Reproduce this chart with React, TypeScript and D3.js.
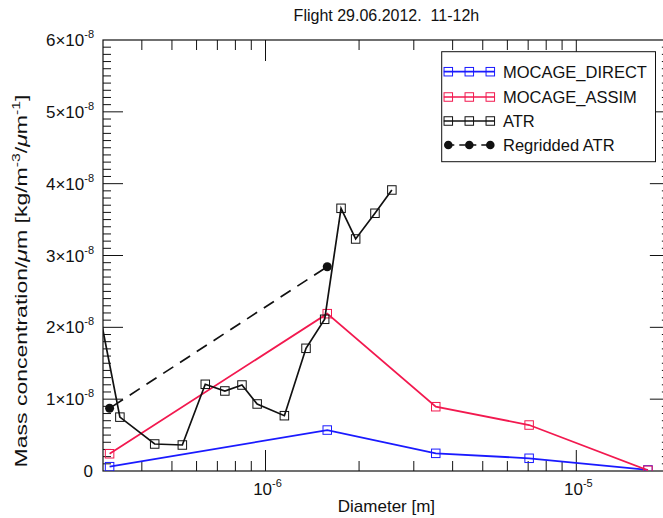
import React from "react";
import * as d3 from "d3";

// Size-resolved aerosol mass concentration, flight of 29.06.2012, 11-12h
const modelDiameter = [3.15e-7, 1.58e-6, 3.53e-6, 7.05e-6, 1.7e-5];
const mocageDirect = [0.06e-8, 0.57e-8, 0.246e-8, 0.177e-8, 0.015e-8];
const mocageAssim = [0.24e-8, 2.19e-8, 0.895e-8, 0.64e-8, 0.01e-8];

const atrDiameter = [
  0.28e-6, 0.34e-6, 0.44e-6, 0.54e-6, 0.64e-6, 0.74e-6, 0.84e-6, 0.94e-6,
  1.15e-6, 1.35e-6, 1.55e-6, 1.75e-6, 1.95e-6, 2.25e-6, 2.55e-6,
];
const atrMass = [
  2.62e-8, 0.75e-8, 0.376e-8, 0.362e-8, 1.207e-8, 1.114e-8, 1.197e-8, 0.933e-8,
  0.77e-8, 1.708e-8, 2.112e-8, 3.657e-8, 3.23e-8, 3.588e-8, 3.912e-8,
];

const regriddedDiameter = [3.15e-7, 1.58e-6];
const regriddedMass = [0.873e-8, 2.844e-8];

const seriesNames = ["MOCAGE_DIRECT", "MOCAGE_ASSIM", "ATR", "Regridded ATR"];
const yTickMantissas = [1, 2, 3, 4, 5, 6];
const yTickExponent = "-8";
const xLabelTicks = [1e-6, 1e-5];
const xLabelExponents = ["-6", "-5"];

const W = 663;
const H = 518;
const FONT = "'Liberation Sans', Arial, Helvetica, sans-serif";
const BLUE = "#1a1aff";
const RED = "#f2194f";
const BLACK = "#111";

const left = 103;
const top = 40;
const bottom = 471;
const x = d3
  .scaleLog()
  .domain([3e-7, 2e-5])
  .range([left, left + 310.8 * Math.log10(2e-5 / 3e-7)]);
const y = d3.scaleLinear().domain([0, 6e-8]).range([bottom, top]);
const right = x.range()[1];

type Pt = [number, number];
const line = d3
  .line<Pt>()
  .x((d) => x(d[0]))
  .y((d) => y(d[1]));

const zip = (a: number[], b: number[]): Pt[] => a.map((v, i) => [v, b[i]]);

function Squares({ pts, color }: { pts: Pt[]; color: string }) {
  const s = 8.5;
  return (
    <g>
      {pts.map((p, i) => (
        <rect
          key={i}
          x={x(p[0]) - s / 2}
          y={y(p[1]) - s / 2}
          width={s}
          height={s}
          fill="none"
          stroke={color}
          strokeWidth={1}
        />
      ))}
    </g>
  );
}

export default function App() {
  const direct = zip(modelDiameter, mocageDirect);
  const assim = zip(modelDiameter, mocageAssim);
  const atr = zip(atrDiameter, atrMass);
  const regrid = zip(regriddedDiameter, regriddedMass);

  const xMinor = x.ticks().filter((t) => t > 3.01e-7 && t < 1.99e-5);
  const yMinor = d3.range(1, 60).map((i) => i * 1e-9);
  const yMajor = yTickMantissas.map((m) => m * 1e-8);

  const legendX = 441.7;
  const legendY = 51.7;
  const legendRows = [71.7, 97, 121, 145];
  const sampleX = [448.3, 469.3, 490.3];
  const legendColors = [BLUE, RED, BLACK];

  return (
    <svg
      width={W}
      height={H}
      style={{ position: "absolute", left: 0, top: 0, background: "#fff" }}
      fontFamily={FONT}
    >
      <defs>
        <clipPath id="plot-area">
          <rect x={left} y={top} width={right - left} height={bottom - top} />
        </clipPath>
      </defs>
      <rect width={W} height={H} fill="#fff" />

      {/* title */}
      <text
        x={(left + right) / 2}
        y={21}
        textAnchor="middle"
        fontSize={16}
        fill="#111"
        style={{ whiteSpace: "pre" }}
      >
        {"Flight 29.06.2012.  11-12h"}
      </text>

      {/* frame */}
      <rect
        x={left}
        y={top}
        width={right - left}
        height={bottom - top}
        fill="none"
        stroke="#111"
        strokeWidth={1.2}
      />

      {/* x ticks, bottom and top */}
      <g stroke="#111" strokeWidth={1}>
        {xMinor.map((t, i) => {
          const major = xLabelTicks.some((m) => Math.abs(m - t) / m < 1e-6);
          const len = major ? 21 : 10;
          return (
            <g key={i}>
              <line x1={x(t)} x2={x(t)} y1={bottom} y2={bottom - len} />
              <line x1={x(t)} x2={x(t)} y1={top} y2={top + len} />
            </g>
          );
        })}
      </g>

      {/* y ticks, left and right */}
      <g stroke="#111" strokeWidth={1}>
        {yMinor.map((v, i) => {
          const major = (i + 1) % 10 === 0;
          const len = major ? 20 : 8;
          return (
            <g key={i}>
              <line x1={left} x2={left + len} y1={y(v)} y2={y(v)} />
              <line x1={right} x2={right - len} y1={y(v)} y2={y(v)} />
            </g>
          );
        })}
      </g>

      {/* x tick labels */}
      {xLabelTicks.map((t, i) => (
        <text
          key={i}
          x={x(t) + 2}
          y={495}
          textAnchor="middle"
          fontSize={17}
          fill="#111"
        >
          10
          <tspan dy={-8} fontSize={11}>
            {xLabelExponents[i]}
          </tspan>
        </text>
      ))}

      {/* y tick labels */}
      <text x={93} y={y(0) + 6} textAnchor="end" fontSize={17} fill="#111">
        0
      </text>
      {yMajor.map((v, i) => (
        <text
          key={i}
          x={94}
          y={y(v) + 6}
          textAnchor="end"
          fontSize={17}
          fill="#111"
        >
          {`${yTickMantissas[i]}×10`}
          <tspan dy={-8} fontSize={11}>
            {yTickExponent}
          </tspan>
        </text>
      ))}

      {/* axis titles */}
      <text
        x={(left + right) / 2}
        y={512}
        textAnchor="middle"
        fontSize={17}
        fill="#111"
      >
        Diameter [m]
      </text>
      <text
        transform="translate(27,281) rotate(-90)"
        textAnchor="middle"
        fontSize={16}
        fill="#111"
        textLength={373}
        lengthAdjust="spacingAndGlyphs"
      >
        {"Mass concentration/"}
        <tspan fontStyle="italic">μ</tspan>
        {"m [kg/m"}
        <tspan dy={-7} fontSize={11}>
          -3
        </tspan>
        <tspan dy={7}>/</tspan>
        <tspan fontStyle="italic">μ</tspan>
        <tspan>m</tspan>
        <tspan dy={-7} fontSize={11}>
          -1
        </tspan>
        <tspan dy={7}>]</tspan>
      </text>

      {/* series */}
      <g clipPath="url(#plot-area)">
        <path d={line(direct) ?? ""} fill="none" stroke={BLUE} strokeWidth={1.8} />
        <Squares pts={direct} color={BLUE} />
        <path d={line(assim) ?? ""} fill="none" stroke={RED} strokeWidth={1.8} />
        <Squares pts={assim} color={RED} />
        <path d={line(atr) ?? ""} fill="none" stroke={BLACK} strokeWidth={1.7} />
        <Squares pts={atr} color={BLACK} />
        <path
          d={line(regrid) ?? ""}
          fill="none"
          stroke={BLACK}
          strokeWidth={1.7}
          strokeDasharray="12,8"
          strokeDashoffset={-4}
        />
        {regrid.map((p, i) => (
          <circle key={i} cx={x(p[0])} cy={y(p[1])} r={4.5} fill={BLACK} />
        ))}
      </g>

      {/* legend */}
      <g>
        <rect
          x={legendX}
          y={legendY}
          width={655.5 - legendX}
          height={161.7 - legendY}
          fill="#fff"
          stroke="#111"
          strokeWidth={1}
        />
        {seriesNames.map((name, i) => {
          const cy = legendRows[i];
          const isRegrid = i === 3;
          const color = isRegrid ? BLACK : legendColors[i];
          return (
            <g key={name}>
              {isRegrid ? (
                <>
                  <line
                    x1={sampleX[0]}
                    x2={sampleX[2]}
                    y1={cy}
                    y2={cy}
                    stroke={BLACK}
                    strokeWidth={1.7}
                    strokeDasharray="6,5"
                  />
                  {sampleX.map((sx, j) => (
                    <circle key={j} cx={sx} cy={cy} r={4.3} fill={BLACK} />
                  ))}
                </>
              ) : (
                <>
                  <line
                    x1={sampleX[0] - 4.5}
                    x2={sampleX[2] + 4.5}
                    y1={cy}
                    y2={cy}
                    stroke={color}
                    strokeWidth={1.7}
                  />
                  {sampleX.map((sx, j) => (
                    <rect
                      key={j}
                      x={sx - 4.25}
                      y={cy - 4.25}
                      width={8.5}
                      height={8.5}
                      fill="none"
                      stroke={color}
                      strokeWidth={1}
                    />
                  ))}
                </>
              )}
              <text x={503} y={cy + 6} fontSize={16.5} fill="#111">
                {name}
              </text>
            </g>
          );
        })}
      </g>
    </svg>
  );
}
